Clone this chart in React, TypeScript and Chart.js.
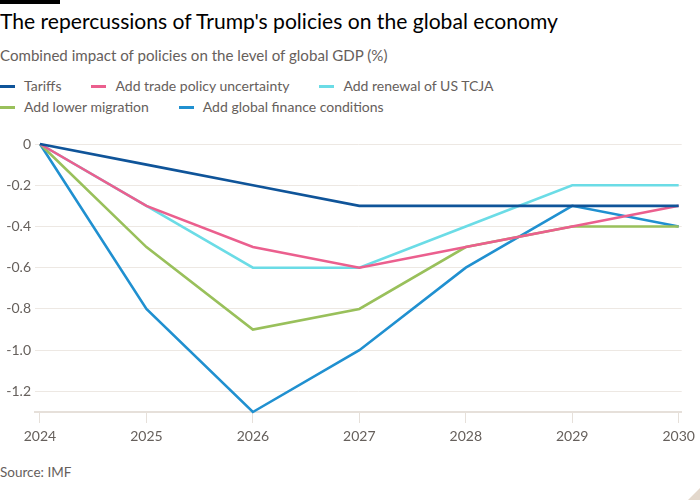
import React, { useEffect, useRef } from "react";
import { Chart, registerables } from "chart.js";

Chart.register(...registerables);

const years = [2024, 2025, 2026, 2027, 2028, 2029, 2030];
const tariffs = [0, -0.1, -0.2, -0.3, -0.3, -0.3, -0.3];
const tradeUncertainty = [0, -0.3, -0.5, -0.6, -0.5, -0.4, -0.3];
const renewalTCJA = [0, -0.3, -0.6, -0.6, -0.4, -0.2, -0.2];
const lowerMigration = [0, -0.5, -0.9, -0.8, -0.5, -0.4, -0.4];
const financeConditions = [0, -0.8, -1.3, -1.0, -0.6, -0.3, -0.4];
const yTicks = [0, -0.2, -0.4, -0.6, -0.8, -1.0, -1.2];

const seriesNames = [
  "Tariffs",
  "Add trade policy uncertainty",
  "Add renewal of US TCJA",
  "Add lower migration",
  "Add global finance conditions",
];
const seriesValues = [tariffs, tradeUncertainty, renewalTCJA, lowerMigration, financeConditions];
const seriesColors = ["#0f5499", "#eb5f8e", "#6bdce6", "#99c05b", "#2090d0"];

const FONT = "Lato, 'Noto Sans', sans-serif";
const GREY = "#66605c";

export default function App() {
  const ref = useRef<HTMLCanvasElement>(null);

  useEffect(() => {
    document.body.style.margin = "0";
    const ctx = ref.current!;
    const chart = new Chart(ctx, {
      type: "line",
      data: {
        datasets: seriesNames.map((name, i) => ({
          label: name,
          data: years.map((yr, j) => ({ x: yr, y: seriesValues[i][j] })),
          borderColor: seriesColors[i],
          backgroundColor: seriesColors[i],
          borderWidth: 2.6,
          pointRadius: 0,
          tension: 0,
          clip: false as any,
        })),
      },
      options: {
        animation: false,
        responsive: false,
        maintainAspectRatio: false,
        layout: { padding: { top: 24, right: 17, left: 0, bottom: 0 } },
        plugins: { legend: { display: false }, tooltip: { enabled: false } },
        scales: {
          x: {
            type: "linear",
            min: 2024 - 5 / (640 / 6),
            max: 2030 + 3 / (640 / 6),
            afterBuildTicks: (s: any) => {
              s.ticks = years.map((v) => ({ value: v }));
            },
            afterFit: (s: any) => {
              s.height = 48;
            },
            grid: {
              drawOnChartArea: false,
              drawTicks: true,
              tickLength: 11,
              color: "#e6e0da",
              lineWidth: 1,
            },
            border: { display: true, color: "#e6e0da", width: 2 },
            ticks: {
              autoSkip: false,
              maxRotation: 0,
              padding: 5,
              color: GREY,
              font: { family: FONT, size: 14 },
              callback: (v: any) => String(v),
            },
          },
          y: {
            type: "linear",
            min: -1.3,
            max: 0,
            afterBuildTicks: (s: any) => {
              s.ticks = yTicks.map((v) => ({ value: v }));
            },
            afterFit: (s: any) => {
              s.width = 35;
            },
            grid: { drawTicks: false, color: "#ede8e3", lineWidth: 1 },
            border: { display: false },
            ticks: {
              padding: 4,
              color: GREY,
              font: { family: FONT, size: 14 },
              callback: (v: any) => (v === 0 ? "0" : Number(v).toFixed(1)),
            },
          },
        },
      },
    });
    return () => chart.destroy();
  }, []);

  return (
    <div
      style={{
        position: "absolute",
        left: 0,
        top: 0,
        width: 700,
        height: 500,
        background: "#fff",
        overflow: "hidden",
        fontFamily: FONT,
      }}
    >
      <div style={{ position: "absolute", left: 0, top: 0, width: 60, height: 4, background: "#000" }} />
      <div
        style={{
          position: "absolute",
          left: 0,
          top: 7,
          fontSize: 21.1,
          color: "#000",
          whiteSpace: "nowrap",
          lineHeight: "28px",
        }}
      >
        The repercussions of Trump's policies on the global economy
      </div>
      <div
        style={{
          position: "absolute",
          left: 0,
          top: 44,
          fontSize: 15.1,
          color: GREY,
          whiteSpace: "nowrap",
          lineHeight: "22px",
        }}
      >
        Combined impact of policies on the level of global GDP (%)
      </div>
      <div
        style={{
          position: "absolute",
          left: 0,
          top: 76,
          width: 560,
          display: "flex",
          flexWrap: "wrap",
          columnGap: 30,
          rowGap: 1,
          fontSize: 14,
          color: GREY,
          lineHeight: "20px",
        }}
      >
        {seriesNames.map((n, i) => (
          <div key={n} style={{ display: "flex", alignItems: "center", whiteSpace: "nowrap" }}>
            <span
              style={{
                display: "inline-block",
                width: 15,
                height: 3,
                background: seriesColors[i],
                marginRight: 9,
              }}
            />
            {n}
          </div>
        ))}
      </div>
      <canvas
        ref={ref}
        width={700}
        height={340}
        style={{ position: "absolute", left: 0, top: 120, width: 700, height: 340 }}
      />
      <div
        style={{
          position: "absolute",
          left: 0,
          top: 463,
          fontSize: 13.5,
          color: GREY,
          whiteSpace: "nowrap",
          lineHeight: "18px",
        }}
      >
        Source: IMF
      </div>
      <div
        style={{
          position: "absolute",
          right: 0,
          bottom: 0,
          width: 0,
          height: 0,
          borderLeft: "12px solid transparent",
          borderBottom: "12px solid #e3d8cc",
        }}
      />
    </div>
  );
}
